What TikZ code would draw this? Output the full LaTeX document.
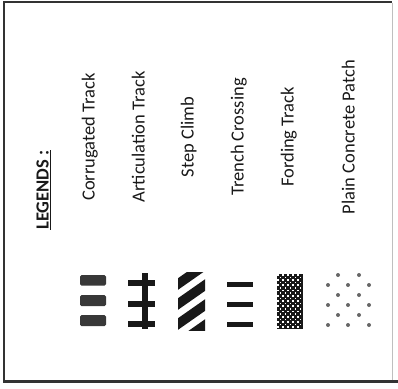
\documentclass[tikz,border=0pt]{standalone}
\usepackage{fontspec}
\setmainfont{Carlito}
\tikzset{%
  legendtext/.style = {rotate=90, anchor=base, inner sep=0pt,%
                       font=\fontsize{18.5}{20}\selectfont, text=black!90},%
  legendhead/.style = {legendtext, font=\fontsize{18.5}{20}\selectfont\bfseries},%
  frameline/.style  = {line width=2.5pt, draw=black!80},%
  corrbar/.style    = {fill=black!78, rounded corners=1.5pt},%
  artbar/.style     = {line width=6pt, draw=black!90},%
  trenchbar/.style  = {line width=5pt, draw=black!90},%
  stepband/.style   = {line width=9.5pt, draw=black!90},%
  concdot/.style    = {fill=black!60}%
}

\begin{document}
\begin{tikzpicture}[x=1pt,y=-1pt]%
	\useasboundingbox (0,0) rectangle (398,388);
	% frame
	\draw[frameline] (392,2) -- (4,2) -- (4,381.5) -- (398,381.5);
	\draw[black!25, line width=0.8pt] (392.5,3) -- (392.5,380);
	% labels
	\node (head)  at (48.5,190)  [legendhead] {\underline{LEGENDS :}};
	\node (corr)  at (94.5,137)  [legendtext] {Corrugated Track};
	\node (artic) at (144.5,137) [legendtext] {Articulation Track};
	\node (step)  at (193.5,137) [legendtext] {Step Climb};
	\node (trench)at (243.5,137) [legendtext] {Trench Crossing};
	\node (ford)  at (293.5,137) [legendtext] {Fording Track};
	\node (plain) at (354.5,137) [legendtext] {Plain Concrete Patch};
	% corrugated track
	\fill[corrbar] (80,275) rectangle (106,285.5);
	\fill[corrbar] (80,295) rectangle (106,306);
	\fill[corrbar] (80,315) rectangle (106,326);
	% articulation track
	\draw[artbar] (128,283) -- (155,283);
	\draw[artbar] (128,304) -- (155,304);
	\draw[artbar] (128,324) -- (155,324);
	\draw[artbar] (144.5,273) -- (144.5,329);
	% step climb
	\begin{scope}
		\clip (178,272) rectangle (205,330);
		\foreach \y in {264,284,304,324,344}
			\draw[stepband] (170,\y+5.6) -- (213,\y-24.5);
	\end{scope}
	% trench crossing
	\draw[trenchbar] (227,284) -- (253,284);
	\draw[trenchbar] (227,304) -- (253,304);
	\draw[trenchbar] (227,324) -- (253,324);
	% fording track
	\fill[black!90] (277,274) rectangle (302.5,329);
	\foreach \i in {0,...,9}
		\foreach \j in {0,...,20}{%
			\pgfmathtruncatemacro\k{mod(\i+\j,2)}
			\ifnum\k=0
				\fill[white] (277+\i*2.55,274+\j*2.62) rectangle ++(1.5,1.6);
			\fi}
	% plain concrete patch
	\foreach \y in {275,295,315}
		\foreach \x in {338,359}
			\fill[concdot] (\x,\y) circle (2);
	\foreach \y in {285,305,325}
		\foreach \x in {328,348,369}
			\fill[concdot] (\x,\y) circle (2);
\end{tikzpicture}
\end{document}
